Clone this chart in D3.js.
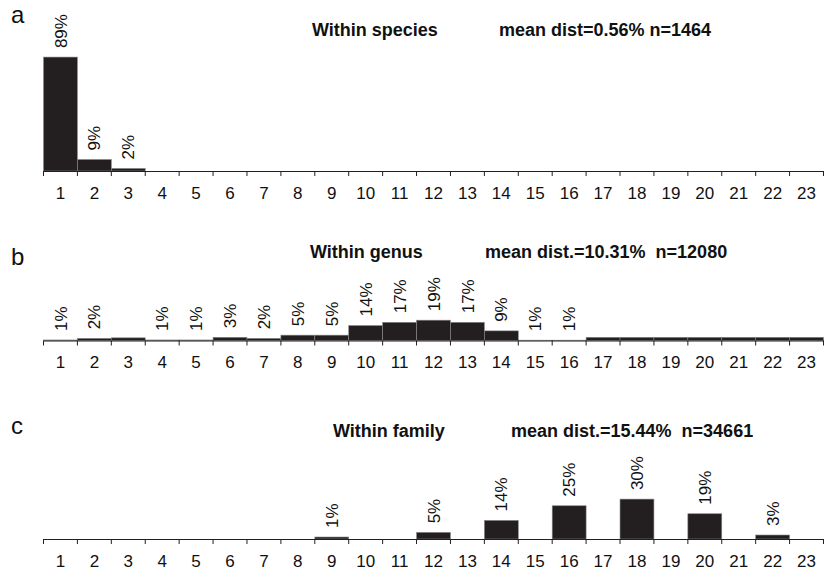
<!DOCTYPE html>
<html>
<head>
<meta charset="utf-8">
<script src="https://cdn.jsdelivr.net/npm/d3@7"></script>
<style>
  body { margin: 0; background: #fff; }
  text { font-family: "Liberation Sans", Arial, sans-serif; fill: #111; }
</style>
</head>
<body>
<div id="chart"></div>
<script>
const WIDTH = 830;
const HEIGHT = 570;

// distance classes (%)
const bins = d3.range(1, 24);

// a: within species
const speciesValues = [89, 9, 2, 0, 0, 0, 0, 0, 0, 0, 0, 0, 0, 0, 0, 0, 0, 0, 0, 0, 0, 0, 0];
const speciesLabels = ["89%", "9%", "2%", "", "", "", "", "", "", "", "", "", "", "", "", "", "", "", "", "", "", "", ""];

// b: within genus
const genusValues = [0.5, 2, 2.5, 0.5, 0.5, 3, 2, 5, 5, 14, 17, 19, 17, 9, 0.3, 0.3, 3, 3, 3, 3, 3, 3, 3];
const genusLabels = ["1%", "2%", "", "1%", "1%", "3%", "2%", "5%", "5%", "14%", "17%", "19%", "17%", "9%", "1%", "1%", "", "", "", "", "", "", ""];

// c: within family
const familyValues = [0, 0, 0, 0, 0, 0, 0, 0, 1.5, 0, 0, 5, 0, 14, 0, 25, 0, 30, 0, 19, 0, 3, 0];
const familyLabels = ["", "", "", "", "", "", "", "", "1%", "", "", "5%", "", "14%", "", "25%", "", "30%", "", "19%", "", "3%", ""];

const panels = [
  { letter: "a", title: "Within species", stats: "mean dist=0.56% n=1464",
    values: speciesValues, labels: speciesLabels,
    axisY: 171, full: 128, letterY: 23, titleY: 36, titleX: 312, statsX: 499 },
  { letter: "b", title: "Within genus", stats: "mean dist.=10.31%  n=12080",
    values: genusValues, labels: genusLabels,
    axisY: 340.5, full: 107, letterY: 265, titleY: 258, titleX: 310, statsX: 485 },
  { letter: "c", title: "Within family", stats: "mean dist.=15.44%  n=34661",
    values: familyValues, labels: familyLabels,
    axisY: 539, full: 133, letterY: 434, titleY: 437, titleX: 333, statsX: 511 }
];

const svg = d3.select("#chart")
  .append("svg")
  .attr("width", WIDTH)
  .attr("height", HEIGHT);

// same x scale for the three histograms
const x = d3.scaleBand()
  .domain(bins)
  .range([43.5, 823.5])
  .padding(0);

panels.forEach(p => {
  const y = d3.scaleLinear()
    .domain([0, 100])
    .range([p.axisY, p.axisY - p.full]);

  const g = svg.append("g");

  // letter + titles
  g.append("text")
    .attr("x", 11)
    .attr("y", p.letterY)
    .style("font-size", "24px")
    .text(p.letter);

  g.append("text")
    .attr("x", p.titleX)
    .attr("y", p.titleY)
    .style("font-size", "18px")
    .style("font-weight", "bold")
    .text(p.title);

  g.append("text")
    .attr("x", p.statsX)
    .attr("y", p.titleY)
    .style("font-size", "18px")
    .style("font-weight", "bold")
    .style("white-space", "pre")
    .text(p.stats);

  // bars
  const data = bins.map((b, i) => ({ bin: b, v: p.values[i], label: p.labels[i] }));

  g.selectAll("rect.bar")
    .data(data.filter(d => d.v > 0))
    .join("rect")
    .attr("class", "bar")
    .attr("x", d => x(d.bin))
    .attr("y", d => y(d.v))
    .attr("width", x.bandwidth())
    .attr("height", d => y(0) - y(d.v))
    .attr("fill", "#231f20")
    .attr("stroke", "#8a8a8a")
    .attr("stroke-width", 0.6);

  // x axis: ticks on band edges, labels in the middle
  const axis = d3.axisBottom(x)
    .tickSize(0)
    .tickPadding(0);

  const ax = g.append("g")
    .attr("transform", `translate(0, ${p.axisY})`)
    .call(axis);

  ax.select(".domain")
    .attr("stroke", "#231f20")
    .attr("stroke-width", 1.2);

  ax.selectAll(".tick text")
    .attr("y", 27.5)
    .attr("dy", 0)
    .style("font-size", "17px")
    .attr("fill", "#111");

  g.selectAll("line.edge")
    .data(bins.concat([24]))
    .join("line")
    .attr("class", "edge")
    .attr("x1", d => d <= 23 ? x(d) : x(23) + x.bandwidth())
    .attr("x2", d => d <= 23 ? x(d) : x(23) + x.bandwidth())
    .attr("y1", p.axisY)
    .attr("y2", p.axisY + 5)
    .attr("stroke", "#231f20")
    .attr("stroke-width", 1);

  // rotated percent labels
  g.selectAll("text.pct")
    .data(data.filter(d => d.label !== ""))
    .join("text")
    .attr("class", "pct")
    .attr("transform", d => `translate(${x(d.bin) + x.bandwidth() / 2}, ${y(d.v) - 9}) rotate(-90)`)
    .attr("dy", "0.36em")
    .style("font-size", "17px")
    .text(d => d.label);
});
</script>
</body>
</html>
